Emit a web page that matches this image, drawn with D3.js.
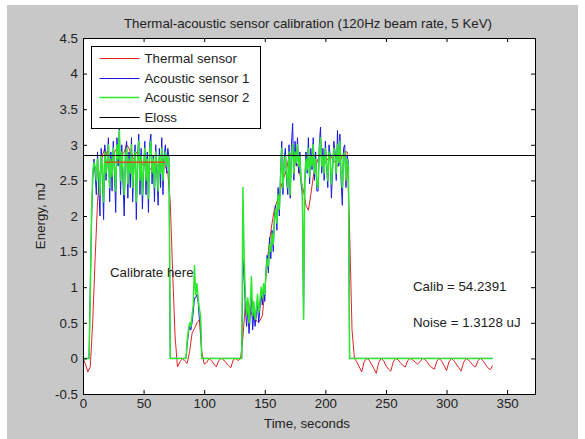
<!DOCTYPE html>
<html>
<head>
<meta charset="utf-8">
<script src="https://cdn.jsdelivr.net/npm/d3@7"></script>
<style>
body{margin:0;background:#fff;}
svg text{font-family:"Liberation Sans",Arial,sans-serif;fill:#222;}
</style>
</head>
<body>
<div class="canvas"></div>
<script>
// sample steps, seconds
const thermalStep=2;
const acousticStep=1;

// thermal sensor, mJ (t = 0,2,4,...)
const thermal=[
 0.0,-0.08,-0.19,-0.12,0.5,1.4,2.2,2.6,2.85,2.95,
 2.85,2.75,2.8,2.9,2.95,2.9,2.85,2.9,3.0,2.95,
 2.85,2.8,2.9,2.85,2.75,2.7,2.75,2.7,2.65,2.7,
 2.75,2.7,2.75,2.8,2.7,2.6,2.2,1.2,0.3,-0.12,
 -0.05,0.0,-0.04,-0.07,0.1,0.35,0.42,0.5,0.54,0.1,
 -0.08,-0.06,0.0,-0.03,-0.08,-0.12,-0.03,0.0,-0.02,-0.06,
 -0.1,-0.13,-0.02,0.0,-0.03,0.0,0.3,0.78,0.8,0.68,
 0.58,0.54,0.52,0.53,0.6,0.95,1.35,1.66,1.9,2.1,
 2.2,2.3,2.45,2.55,2.65,2.85,2.88,2.8,2.75,2.68,
 2.5,2.35,2.15,2.08,2.3,2.55,2.7,2.8,2.85,2.8,
 2.75,2.8,2.85,2.8,2.75,2.7,2.75,2.85,2.9,2.9,
 1.8,0.4,0.0,-0.05,-0.12,-0.19,-0.05,0.0,-0.02,-0.08,
 -0.14,-0.21,-0.06,0.0,-0.03,-0.1,-0.15,-0.18,-0.05,0.0,
 -0.02,-0.06,-0.1,-0.12,-0.03,0.0,-0.02,-0.05,-0.08,-0.05,
 0.0,-0.01,-0.05,-0.1,-0.13,-0.15,-0.04,0.0,-0.04,-0.1,
 -0.17,-0.05,0.0,-0.03,-0.08,-0.13,-0.18,-0.06,0.0,-0.02,
 -0.06,-0.1,-0.12,-0.03,0.0,-0.03,-0.08,-0.13,-0.16,-0.1
];

// acoustic sensor 1, mJ (t = 0,1,2,...), one row per 10 s
const acoustic1=[
 0,0,0,0,0,0,1.0,1.9,2.5,2.8,
 2.6,2.3,2.9,2.4,2.0,2.95,2.6,1.95,3.0,2.5,
 2.8,3.1,2.2,2.9,2.35,3.05,2.6,2.05,3.1,2.7,
 3.25,2.3,3.0,2.5,2.0,2.9,3.05,2.25,2.9,2.4,
 3.1,2.2,2.7,3.0,1.95,2.8,3.15,2.3,2.95,2.1,
 2.6,3.05,2.3,2.9,2.05,3.0,3.15,2.45,2.85,2.2,
 3.0,2.6,2.15,2.95,2.4,3.1,2.3,2.85,3.0,2.6,
 2.95,2.8,0,0,0,0,0,0,0,0,
 0,0,0,0,0,0,0.2,0.35,0.45,0.4,
 0.5,0.65,0.85,0.85,0.9,0.8,0.55,0.5,0,0,
 0,0,0,0,0,0,0,0,0,0,
 0,0,0,0,0,0,0,0,0,0,
 0,0,0,0,0,0,0,0,0,0,
 0,0,1.4,1.1,0.7,0.45,0.7,0.35,0.6,0.9,
 0.4,0.65,0.45,0.6,0.8,0.5,0.7,0.9,0.75,1.0,
 0.8,1.25,1.45,1.2,1.7,1.4,1.8,1.5,2.0,2.15,
 1.8,2.4,2.0,2.6,3.05,2.3,2.8,2.95,2.5,2.3,
 3.0,2.25,3.0,3.3,2.5,3.05,2.7,3.1,2.6,2.9,
 2.45,2.3,0.57,2.45,2.9,2.6,3.1,2.45,2.95,2.65,
 3.1,2.5,2.9,2.35,2.35,3.0,3.25,2.6,2.95,2.5,
 3.05,2.7,2.4,3.0,2.85,2.25,2.65,3.05,2.9,2.5,
 3.2,2.7,3.15,2.5,2.15,2.95,3.0,2.4,2.85,2.75,
 0,0,0,0,0,0,0,0,0,0,
 0,0,0,0,0,0,0,0,0,0,
 0,0,0,0,0,0,0,0,0,0,
 0,0,0,0,0,0,0,0,0,0,
 0,0,0,0,0,0,0,0,0,0,
 0,0,0,0,0,0,0,0,0,0,
 0,0,0,0,0,0,0,0,0,0,
 0,0,0,0,0,0,0,0,0,0,
 0,0,0,0,0,0,0,0,0,0,
 0,0,0,0,0,0,0,0,0,0,
 0,0,0,0,0,0,0,0,0,0,
 0,0,0,0,0,0,0,0,0
];

// acoustic sensor 2, mJ (t = 0,1,2,...), one row per 10 s
const acoustic2=[
 0,0,0,0,0,0,0.9,2.0,2.6,2.75,
 2.7,2.5,2.8,2.6,2.3,2.85,2.7,2.2,2.9,2.6,
 2.75,3.0,2.4,2.8,2.55,2.95,2.7,2.35,3.0,2.8,
 3.2,2.5,2.9,2.65,2.3,2.85,2.95,2.45,2.8,2.6,
 3.0,2.4,2.7,2.9,2.2,2.75,3.05,2.5,2.85,2.3,
 2.7,2.95,2.5,2.8,2.25,2.9,3.05,2.6,2.8,2.4,
 2.9,2.7,2.35,2.85,2.6,2.95,2.5,2.8,2.9,2.7,
 2.85,2.75,0,0,0,0,0,0,0,0,
 0,0,0,0,0,0,0.26,0.4,0.5,0.45,
 0.6,0.75,1.3,0.9,1.05,0.85,0.7,0.6,0,0,
 0,0,0,0,0,0,0,0,0,0,
 0,0,0,0,0,0,0,0,0,0,
 0,0,0,0,0,0,0,0,0,0,
 0,0,2.4,1.4,0.9,0.6,0.85,0.5,0.75,1.15,
 0.6,0.8,0.55,0.7,0.9,0.65,0.8,1.0,0.85,1.05,
 0.9,1.2,1.4,1.3,1.6,1.5,1.75,1.6,1.95,2.1,
 1.9,2.3,2.1,2.5,2.95,2.4,2.7,2.85,2.6,2.4,
 2.9,2.3,2.8,3.0,2.6,2.9,2.75,3.0,2.7,2.85,
 2.5,2.4,0.55,2.5,2.8,2.65,2.95,2.55,2.85,2.7,
 3.0,2.6,2.8,2.45,2.4,2.9,3.1,2.7,2.85,2.6,
 2.95,2.75,2.5,2.9,2.8,2.45,2.7,2.95,2.85,2.6,
 3.0,2.75,3.05,2.6,2.4,2.85,2.9,2.5,2.8,2.7,
 0,0,0,0,0,0,0,0,0,0,
 0,0,0,0,0,0,0,0,0,0,
 0,0,0,0,0,0,0,0,0,0,
 0,0,0,0,0,0,0,0,0,0,
 0,0,0,0,0,0,0,0,0,0,
 0,0,0,0,0,0,0,0,0,0,
 0,0,0,0,0,0,0,0,0,0,
 0,0,0,0,0,0,0,0,0,0,
 0,0,0,0,0,0,0,0,0,0,
 0,0,0,0,0,0,0,0,0,0,
 0,0,0,0,0,0,0,0,0,0,
 0,0,0,0,0,0,0,0,0
];

const eloss=2.855;
const calibWindow=[18,68];
const calibLevel=2.755;

const xTicks=[0,50,100,150,200,250,300,350];
const yTicks=[-0.5,0,0.5,1,1.5,2,2.5,3,3.5,4,4.5];

const series=[
 {name:'Thermal sensor',colour:'#e02424',width:1,step:thermalStep,values:thermal},
 {name:'Acoustic sensor 1',colour:'#1a1ae0',width:1,step:acousticStep,values:acoustic1},
 {name:'Acoustic sensor 2',colour:'#2ee82e',width:1.5,step:acousticStep,values:acoustic2},
];

const W=585,H=439;
const m={left:83,right:535,top:38,bottom:394};
const fs=13.3;

const svg=d3.select('.canvas').append('svg')
  .attr('width',W).attr('height',H);

// figure background
svg.append('rect').attr('x',7).attr('y',5).attr('width',571).attr('height',H-5)
  .attr('fill','#c8c8c8');

const x=d3.scaleLinear().domain([0,373]).range([m.left,m.right]);
const y=d3.scaleLinear().domain([-0.5,4.5]).range([m.bottom,m.top]);

svg.append('rect')
  .attr('x',m.left).attr('y',m.top)
  .attr('width',m.right-m.left).attr('height',m.bottom-m.top)
  .attr('fill','#fff');

svg.append('clipPath').attr('id','clip')
  .append('rect').attr('x',m.left).attr('y',m.top)
  .attr('width',m.right-m.left).attr('height',m.bottom-m.top);

const plot=svg.append('g').attr('clip-path','url(#clip)');

// thermal, acoustic 1, acoustic 2 in that order (green ends on top)
series.forEach(s=>{
  const line=d3.line()
    .x((d,i)=>x(i*s.step))
    .y(d=>y(d));
  plot.append('path')
    .attr('d',line(s.values))
    .attr('fill','none')
    .attr('stroke',s.colour)
    .attr('stroke-width',s.width)
    .attr('stroke-linejoin','round');
});

// calibration window marker
plot.append('line')
  .attr('x1',x(calibWindow[0])).attr('x2',x(calibWindow[1]))
  .attr('y1',y(calibLevel)).attr('y2',y(calibLevel))
  .attr('stroke','#c8561e').attr('stroke-width',1.5);

// eloss level
plot.append('line')
  .attr('x1',m.left).attr('x2',m.right)
  .attr('y1',Math.round(y(eloss))+0.5).attr('y2',Math.round(y(eloss))+0.5)
  .attr('stroke','#000').attr('stroke-width',1);

// axes with inward ticks
const axisStyle=g=>{
  g.select('.domain').remove();
  g.selectAll('line').attr('stroke','#000');
  g.selectAll('text').attr('font-size',fs).attr('fill','#222')
    .attr('font-family','"Liberation Sans",Arial,sans-serif');
};
svg.append('g').attr('transform',`translate(0,${m.bottom})`)
  .call(d3.axisBottom(x).tickValues(xTicks).tickSizeInner(-4).tickSizeOuter(0).tickPadding(5))
  .call(axisStyle);
svg.append('g').attr('transform',`translate(0,${m.top})`)
  .call(d3.axisTop(x).tickValues(xTicks).tickSizeInner(-4).tickSizeOuter(0).tickFormat(''))
  .call(axisStyle);
svg.append('g').attr('transform',`translate(${m.left},0)`)
  .call(d3.axisLeft(y).tickValues(yTicks).tickSizeInner(-4).tickSizeOuter(0).tickPadding(5)
    .tickFormat(d=>d))
  .call(axisStyle);
svg.append('g').attr('transform',`translate(${m.right},0)`)
  .call(d3.axisRight(y).tickValues(yTicks).tickSizeInner(-4).tickSizeOuter(0).tickFormat(''))
  .call(axisStyle);

svg.append('rect')
  .attr('x',m.left+0.5).attr('y',m.top+0.5)
  .attr('width',m.right-m.left).attr('height',m.bottom-m.top)
  .attr('fill','none').attr('stroke','#000').attr('stroke-width',1);

// title and labels
svg.append('text').attr('x',308).attr('y',28).attr('text-anchor','middle')
  .attr('font-size',fs).text('Thermal-acoustic sensor calibration (120Hz beam rate, 5 KeV)');
svg.append('text').attr('x',307).attr('y',428).attr('text-anchor','middle')
  .attr('font-size',fs).text('Time, seconds');
svg.append('text').attr('transform','translate(45,216) rotate(-90)')
  .attr('text-anchor','middle').attr('font-size',fs).text('Energy, mJ');

svg.append('text').attr('x',110).attr('y',277).attr('font-size',fs).text('Calibrate here');
svg.append('text').attr('x',413).attr('y',291).attr('font-size',fs).text('Calib = 54.2391');
svg.append('text').attr('x',413).attr('y',327).attr('font-size',fs).text('Noise = 1.3128 uJ');

// legend
const legendItems=[...series,{name:'Eloss',colour:'#000',width:1}];
const lg=svg.append('g').attr('transform','translate(91.5,46.5)');
lg.append('rect').attr('width',169).attr('height',82)
  .attr('fill','#fff').attr('stroke','#000');
legendItems.forEach((s,i)=>{
  const yy=Math.round(12+i*19.5);
  lg.append('line').attr('x1',8).attr('x2',48).attr('y1',yy).attr('y2',yy)
    .attr('stroke',s.colour).attr('stroke-width',s.width);
  lg.append('text').attr('x',53).attr('y',yy+4.5).attr('font-size',fs).text(s.name);
});
</script>
</body>
</html>
